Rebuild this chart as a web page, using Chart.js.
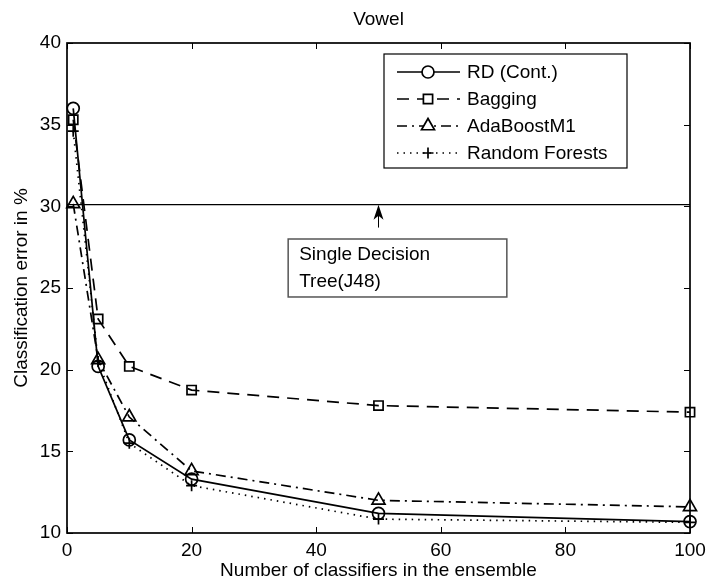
<!DOCTYPE html>
<html>
<head>
<meta charset="utf-8">
<script src="https://cdn.jsdelivr.net/npm/chart.js@4"></script>
<style>
  html, body { margin: 0; padding: 0; background: #fff; }
  #wrap { width: 708px; height: 582px; }
</style>
</head>
<body>
<div id="wrap"><canvas id="errChart" width="708" height="582"></canvas></div>
<script>
// ensemble sizes and error rates (%) for the Vowel dataset
const ensembleSizes = [1, 5, 10, 20, 50, 100];
const rdCont       = [36.0, 20.2, 15.7, 13.3, 11.2, 10.7];
const bagging      = [35.3, 23.1, 20.2, 18.75, 17.8, 17.4];
const adaBoostM1   = [30.15, 20.6, 17.1, 13.8, 12.0, 11.6];
const randomForest = [34.6, 20.5, 15.5, 12.9, 10.85, 10.65];
const singleTree = 30.1;
const xTicks = [0, 20, 40, 60, 80, 100];
const yTicks = [10, 15, 20, 25, 30, 35, 40];

const FONT = "Arial, 'Liberation Sans', Helvetica, sans-serif";
const FS = 19;

function pts(ys) {
    return ensembleSizes.map((x, i) => ({ x: x, y: ys[i] }));
}

const seriesDefs = [
    { label: 'RD (Cont.)',     data: rdCont,       dash: [],            point: 'circle',   r: 6 },
    { label: 'Bagging',        data: bagging,      dash: [12, 8],       point: 'rect',     r: 6.5 },
    { label: 'AdaBoostM1',     data: adaBoostM1,   dash: [10, 5, 2, 5], point: 'triangle', r: 7.5 },
    { label: 'Random Forests', data: randomForest, dash: [1.5, 5],      point: 'cross',    r: 5.5 }
];

let datasets = seriesDefs.map(s => ({
    label: s.label,
    data: pts(s.data),
    borderColor: '#000',
    borderWidth: 1.7,
    borderDash: s.dash,
    pointStyle: s.point,
    pointRadius: s.r,
    pointBorderColor: '#000',
    pointBackgroundColor: 'rgba(0,0,0,0)',
    pointBorderWidth: 1.7,
    tension: 0,
    fill: false,
    clip: false
}));

// single decision tree reference line
datasets.push({
    label: 'J48',
    data: [{ x: 0, y: singleTree }, { x: 100, y: singleTree }],
    borderColor: '#000',
    borderWidth: 1.2,
    pointRadius: 0,
    fill: false
});

// axes box, inward ticks, title, legend and annotation
const decorations = {
    id: 'decorations',
    afterDatasetsDraw(chart) {
        const ctx = chart.ctx;
        const xs = chart.scales.x, ys = chart.scales.y;
        const a = chart.chartArea;
        ctx.save();

        // frame
        ctx.strokeStyle = '#000';
        ctx.lineWidth = 1.7;
        ctx.setLineDash([]);
        ctx.strokeRect(a.left, a.top, a.right - a.left, a.bottom - a.top);

        // inward ticks on all four sides
        ctx.lineWidth = 1;
        const tl = 6;
        xTicks.forEach(v => {
            const px = Math.round(xs.getPixelForValue(v)) + 0.5;
            ctx.beginPath();
            ctx.moveTo(px, a.bottom); ctx.lineTo(px, a.bottom - tl);
            ctx.moveTo(px, a.top); ctx.lineTo(px, a.top + tl);
            ctx.stroke();
        });
        yTicks.forEach(v => {
            const py = Math.round(ys.getPixelForValue(v)) + 0.5;
            ctx.beginPath();
            ctx.moveTo(a.left, py); ctx.lineTo(a.left + tl, py);
            ctx.moveTo(a.right, py); ctx.lineTo(a.right - tl, py);
            ctx.stroke();
        });

        // title
        ctx.fillStyle = '#000';
        ctx.font = FS + 'px ' + FONT;
        ctx.textAlign = 'center';
        ctx.textBaseline = 'middle';
        ctx.fillText('Vowel', (a.left + a.right) / 2, 20);

        // arrow pointing at the J48 line
        const ax = xs.getPixelForValue(50);
        const ay0 = ys.getPixelForValue(28.7);
        const ay1 = ys.getPixelForValue(singleTree);
        ctx.lineWidth = 1;
        ctx.beginPath();
        ctx.moveTo(ax, ay0); ctx.lineTo(ax, ay1 + 8);
        ctx.stroke();
        ctx.beginPath();
        ctx.moveTo(ax, ay1);
        ctx.lineTo(ax - 5, ay1 + 15);
        ctx.lineTo(ax, ay1 + 11);
        ctx.lineTo(ax + 5, ay1 + 15);
        ctx.closePath();
        ctx.fill();

        // annotation box
        const bx0 = xs.getPixelForValue(35.5), bx1 = xs.getPixelForValue(70.6);
        const by0 = ys.getPixelForValue(28.0), by1 = ys.getPixelForValue(24.45);
        ctx.fillStyle = '#fff';
        ctx.fillRect(bx0, by0, bx1 - bx0, by1 - by0);
        ctx.strokeStyle = '#555';
        ctx.lineWidth = 1.5;
        ctx.strokeRect(bx0, by0, bx1 - bx0, by1 - by0);
        ctx.fillStyle = '#000';
        ctx.font = FS + 'px ' + FONT;
        ctx.textAlign = 'left';
        ctx.fillText('Single Decision', bx0 + 11, by0 + 16);
        ctx.fillText('Tree(J48)', bx0 + 11, by0 + 43);

        // legend
        const lx0 = 384, ly0 = 54, lx1 = 627, ly1 = 168;
        ctx.fillStyle = '#fff';
        ctx.fillRect(lx0, ly0, lx1 - lx0, ly1 - ly0);
        ctx.strokeStyle = '#000';
        ctx.lineWidth = 1.2;
        ctx.strokeRect(lx0, ly0, lx1 - lx0, ly1 - ly0);
        seriesDefs.forEach((s, i) => {
            const y = 72 + i * 27;
            const ds = chart.data.datasets[i];
            ctx.strokeStyle = '#000';
            ctx.lineWidth = 1.7;
            ctx.setLineDash(s.dash);
            ctx.beginPath();
            ctx.moveTo(397, y); ctx.lineTo(460, y);
            ctx.stroke();
            ctx.setLineDash([]);
            ctx.fillStyle = '#fff';
            Chart.helpers.drawPoint(ctx, {
                pointStyle: s.point, radius: s.r, borderWidth: 1.7, rotation: 0
            }, 428, y);
            ctx.fillStyle = '#000';
            ctx.font = FS + 'px ' + FONT;
            ctx.textAlign = 'left';
            ctx.textBaseline = 'middle';
            ctx.fillText(ds.label, 467, y + 1);
        });

        ctx.restore();
    }
};

const ctx = document.getElementById('errChart').getContext('2d');
new Chart(ctx, {
    type: 'line',
    data: { datasets: datasets },
    options: {
        responsive: false,
        animation: false,
        devicePixelRatio: 1,
        layout: { padding: { top: 43, right: 18, left: 0, bottom: 0 } },
        plugins: {
            legend: { display: false },
            tooltip: { enabled: false }
        },
        scales: {
            x: {
                type: 'linear',
                min: 0, max: 100,
                afterFit: s => { s.height = 49; s.paddingRight = 0; s.paddingLeft = 0; },
                afterBuildTicks: s => { s.ticks = xTicks.map(v => ({ value: v })); },
                grid: { display: false, drawTicks: false },
                border: { display: false },
                ticks: { color: '#000', padding: 6, font: { family: FONT, size: FS } },
                title: {
                    display: true,
                    text: 'Number of classifiers in the ensemble',
                    color: '#000',
                    font: { family: FONT, size: FS },
                    padding: { top: 0, bottom: 0 }
                }
            },
            y: {
                type: 'linear',
                min: 10, max: 40,
                afterFit: s => { s.width = 67; },
                afterBuildTicks: s => { s.ticks = yTicks.map(v => ({ value: v })); },
                grid: { display: false, drawTicks: false },
                border: { display: false },
                ticks: { color: '#000', padding: 6, font: { family: FONT, size: FS } },
                title: {
                    display: true,
                    text: 'Classification error in %',
                    color: '#000',
                    font: { family: FONT, size: FS },
                    padding: { top: 10, bottom: 0 }
                }
            }
        }
    },
    plugins: [decorations]
});
</script>
</body>
</html>
